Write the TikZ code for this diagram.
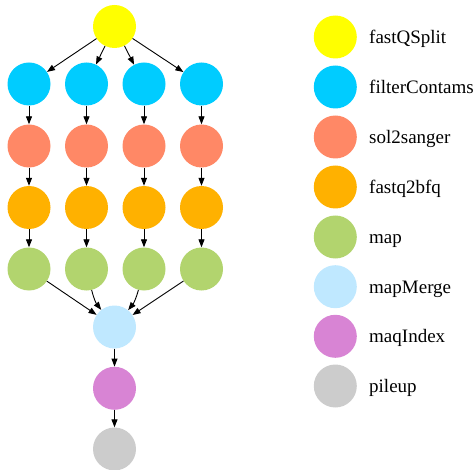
\documentclass[tikz,border=0pt]{standalone}
\usepackage{fontspec}
\setmainfont{Liberation Serif}
\usetikzlibrary{arrows.meta}
\definecolor{cSplit}{HTML}{FFFF00}
\definecolor{cFilter}{HTML}{00CCFF}
\definecolor{cSol}{HTML}{FF8866}
\definecolor{cFq}{HTML}{FFB100}
\definecolor{cMap}{HTML}{B2D46E}
\definecolor{cMerge}{HTML}{BFE8FF}
\definecolor{cIdx}{HTML}{D884D4}
\definecolor{cPile}{HTML}{CCCCCC}
\begin{document}
\begin{tikzpicture}[x=1pt,y=-1pt,
  dot/.style={circle,minimum size=43pt,inner sep=0pt,draw=none,fill=#1},
  arr/.style={draw=black,line width=0.9pt,-{Triangle[length=8pt,width=6pt]}},
  lab/.style={anchor=base west,inner sep=0pt,font=\fontsize{19}{19}\selectfont}]
\useasboundingbox (0,0) rectangle (476,470);
% graph
\node[dot=cSplit] (s) at (114.5,26.5) {};
\foreach \i/\x in {1/29,2/86.5,3/144,4/201.5}{
  \node[dot=cFilter] (f\i) at (\x,84) {};
  \node[dot=cSol] (o\i) at (\x,146) {};
  \node[dot=cFq] (q\i) at (\x,207.5) {};
  \node[dot=cMap] (m\i) at (\x,269) {};
}
\node[dot=cMerge] (mg) at (114.5,327) {};
\node[dot=cIdx] (ix) at (114.5,388.3) {};
\node[dot=cPile] (pl) at (114.5,449) {};
\foreach \i in {1,2,3,4}{
  \draw[arr] (s) -- (f\i);
  \draw[arr] (f\i) -- (o\i);
  \draw[arr] (o\i) -- (q\i);
  \draw[arr] (q\i) -- (m\i);
}
\draw[arr] (m1) -- (mg);
\draw[arr] (m2) to[bend right=12] (mg);
\draw[arr] (m3) to[bend left=12] (mg);
\draw[arr] (m4) -- (mg);
\draw[arr] (mg) -- (ix);
\draw[arr] (ix) -- (pl);
% legend
\foreach \n/\c/\y/\t in {l1/cSplit/37/fastQSplit,l2/cFilter/87/filterContams,l3/cSol/137/sol2sanger,l4/cFq/187/fastq2bfq,l5/cMap/237/map,l6/cMerge/286.7/mapMerge,l7/cIdx/336.3/maqIndex,l8/cPile/386/pileup}{
  \node[dot=\c] (\n) at (335.3,\y) {};
  \node[lab] (\n t) at (369,\y+6.5) {\t};
}
\end{tikzpicture}
\end{document}
